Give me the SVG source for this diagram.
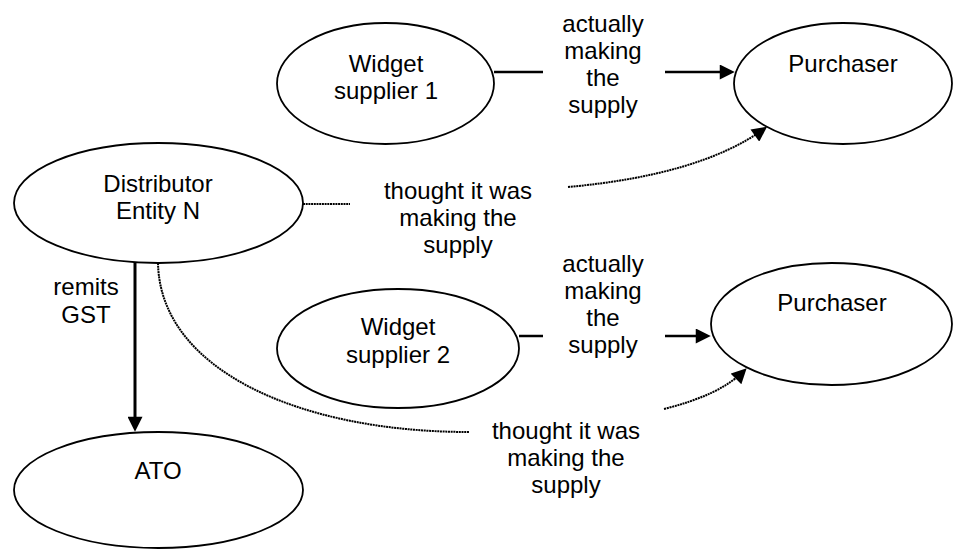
<svg xmlns="http://www.w3.org/2000/svg" width="959" height="550" viewBox="0 0 959 550">
<style>
  .node { fill: #fff; stroke: #000; stroke-width: 1.8; }
  .lbl { font-family: "Liberation Sans", Arial, sans-serif; font-size: 24px; fill: #000; text-anchor: middle; }
  .solid { fill: none; stroke: #000; stroke-width: 2.5; }
  .thick { fill: none; stroke: #000; stroke-width: 3; }
  .dot { fill: none; stroke: #000; stroke-width: 2; stroke-dasharray: 2 0.7; }
</style>
<defs>
  <marker id="ah" viewBox="0 0 16 16" refX="12" refY="8" markerWidth="16" markerHeight="15" markerUnits="userSpaceOnUse" orient="auto">
    <path d="M0,0 L16,8 L0,16 z" fill="#000"/>
  </marker>
</defs>
<rect width="959" height="550" fill="#fff"/>
<g id="connectors">
  <line class="solid" x1="494" y1="72" x2="543" y2="72"/>
  <line class="solid" x1="665" y1="72" x2="731" y2="72" marker-end="url(#ah)"/>
  <line class="solid" x1="519" y1="336" x2="543" y2="336"/>
  <line class="solid" x1="665" y1="336" x2="707" y2="336" marker-end="url(#ah)"/>
  <line class="dot" x1="303" y1="204" x2="350" y2="204"/>
  <path class="dot" d="M568,187 Q700,175 764,129" marker-end="url(#ah)"/>
  <path class="dot" d="M158,263 C160,370 300,432 469,432"/>
  <path class="dot" d="M664,409 Q720,395 744,371" marker-end="url(#ah)"/>
  <line class="thick" x1="135" y1="262" x2="135" y2="428" marker-end="url(#ah)"/>
</g>
<g id="widget1">
  <ellipse class="node" cx="385.5" cy="83.5" rx="108.5" ry="60.5"/>
  <text class="lbl" x="386" y="72">Widget</text>
  <text class="lbl" x="386" y="99">supplier 1</text>
</g>
<g id="purchaser1">
  <ellipse class="node" cx="843" cy="83.5" rx="109" ry="60.5"/>
  <text class="lbl" x="843" y="72">Purchaser</text>
</g>
<g id="distributor">
  <ellipse class="node" cx="158.5" cy="203" rx="144.5" ry="60"/>
  <text class="lbl" x="158" y="192">Distributor</text>
  <text class="lbl" x="158" y="219">Entity N</text>
</g>
<g id="widget2">
  <ellipse class="node" cx="398" cy="348.5" rx="121" ry="59.5"/>
  <text class="lbl" x="398" y="335">Widget</text>
  <text class="lbl" x="398" y="363">supplier 2</text>
</g>
<g id="purchaser2">
  <ellipse class="node" cx="831.5" cy="324" rx="120.5" ry="61"/>
  <text class="lbl" x="832" y="311">Purchaser</text>
</g>
<g id="ato">
  <ellipse class="node" cx="158.5" cy="490" rx="144.5" ry="58"/>
  <text class="lbl" x="158" y="479">ATO</text>
</g>
<g id="labels">
  <text class="lbl" x="603" y="32">actually</text>
  <text class="lbl" x="603" y="59">making</text>
  <text class="lbl" x="603" y="86">the</text>
  <text class="lbl" x="603" y="113">supply</text>
  <text class="lbl" x="458" y="199">thought it was</text>
  <text class="lbl" x="458" y="226">making the</text>
  <text class="lbl" x="458" y="253">supply</text>
  <text class="lbl" x="603" y="272">actually</text>
  <text class="lbl" x="603" y="299">making</text>
  <text class="lbl" x="603" y="326">the</text>
  <text class="lbl" x="603" y="353">supply</text>
  <text class="lbl" x="566" y="439">thought it was</text>
  <text class="lbl" x="566" y="466">making the</text>
  <text class="lbl" x="566" y="493">supply</text>
  <text class="lbl" x="86" y="295">remits</text>
  <text class="lbl" x="86" y="323">GST</text>
</g>
</svg>
